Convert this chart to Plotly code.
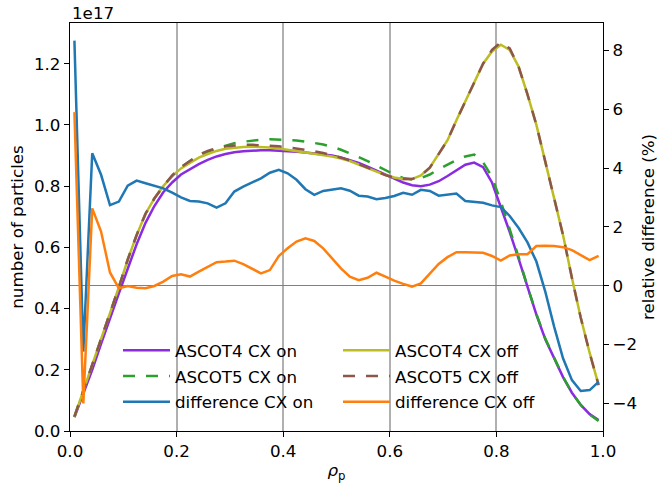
import plotly.graph_objects as go

# radial coordinate (bin centres)
rho = [0.0083, 0.0250, 0.0417, 0.0583, 0.0750, 0.0917, 0.1083, 0.1250, 0.1417, 0.1583,
       0.1750, 0.1917, 0.2083, 0.2250, 0.2417, 0.2583, 0.2750, 0.2917, 0.3083, 0.3250,
       0.3417, 0.3583, 0.3750, 0.3917, 0.4083, 0.4250, 0.4417, 0.4583, 0.4750, 0.4917,
       0.5083, 0.5250, 0.5417, 0.5583, 0.5750, 0.5917, 0.6083, 0.6250, 0.6417, 0.6583,
       0.6750, 0.6917, 0.7083, 0.7250, 0.7417, 0.7583, 0.7750, 0.7917, 0.8083, 0.8250,
       0.8417, 0.8583, 0.8750, 0.8917, 0.9083, 0.9250, 0.9417, 0.9583, 0.9750, 0.9917]

# number of particles, in units of 1e17
ascot4_cx_on = [0.045, 0.12, 0.20, 0.285, 0.37, 0.45, 0.53, 0.61, 0.68, 0.735,
                0.78, 0.812, 0.838, 0.856, 0.872, 0.886, 0.897, 0.905, 0.911, 0.914,
                0.916, 0.917, 0.917, 0.916, 0.914, 0.912, 0.910, 0.907, 0.904, 0.900,
                0.894, 0.886, 0.876, 0.864, 0.851, 0.837, 0.824, 0.812, 0.803, 0.800,
                0.805, 0.816, 0.833, 0.853, 0.870, 0.877, 0.862, 0.812, 0.732, 0.650,
                0.562, 0.470, 0.380, 0.300, 0.240, 0.176, 0.125, 0.085, 0.055, 0.036]
ascot5_cx_on = [0.047, 0.13, 0.215, 0.30, 0.385, 0.47, 0.56, 0.64, 0.71, 0.76,
                0.80, 0.833, 0.862, 0.882, 0.898, 0.912, 0.923, 0.932, 0.940, 0.945,
                0.949, 0.952, 0.953, 0.953, 0.951, 0.949, 0.946, 0.941, 0.936, 0.929,
                0.919, 0.908, 0.895, 0.882, 0.867, 0.852, 0.838, 0.827, 0.822, 0.826,
                0.838, 0.855, 0.870, 0.885, 0.897, 0.903, 0.878, 0.830, 0.750, 0.660,
                0.568, 0.472, 0.382, 0.302, 0.240, 0.177, 0.125, 0.085, 0.054, 0.033]
ascot4_cx_off = [0.047, 0.13, 0.215, 0.30, 0.385, 0.47, 0.56, 0.64, 0.71, 0.76,
                 0.80, 0.833, 0.858, 0.876, 0.893, 0.905, 0.915, 0.922, 0.926, 0.928,
                 0.929, 0.928, 0.926, 0.923, 0.919, 0.915, 0.911, 0.907, 0.903, 0.897,
                 0.890, 0.882, 0.870, 0.858, 0.846, 0.836, 0.828, 0.823, 0.823, 0.835,
                 0.860, 0.905, 0.950, 1.015, 1.075, 1.140, 1.200, 1.240, 1.262, 1.245,
                 1.190, 1.100, 1.000, 0.880, 0.765, 0.640, 0.500, 0.370, 0.255, 0.150]
ascot5_cx_off = [0.047, 0.13, 0.215, 0.30, 0.385, 0.47, 0.56, 0.64, 0.71, 0.76,
                 0.80, 0.835, 0.862, 0.882, 0.903, 0.915, 0.924, 0.930, 0.933, 0.935,
                 0.935, 0.934, 0.932, 0.930, 0.927, 0.923, 0.919, 0.914, 0.908, 0.901,
                 0.893, 0.884, 0.872, 0.859, 0.847, 0.836, 0.828, 0.823, 0.823, 0.835,
                 0.860, 0.905, 0.950, 1.015, 1.075, 1.140, 1.200, 1.245, 1.270, 1.250,
                 1.190, 1.100, 1.000, 0.880, 0.765, 0.640, 0.500, 0.370, 0.255, 0.150]

# relative difference (%)
diff_cx_on = [8.33, -2.24, 4.50, 3.77, 2.74, 2.86, 3.40, 3.57, 3.48, 3.40,
              3.31, 3.16, 3.00, 2.88, 2.86, 2.80, 2.65, 2.80, 3.20, 3.37,
              3.50, 3.65, 3.84, 3.94, 3.82, 3.60, 3.28, 3.09, 3.22, 3.26,
              3.31, 3.23, 3.06, 3.03, 2.94, 2.98, 3.05, 3.16, 3.09, 3.26,
              3.22, 3.06, 3.10, 3.13, 2.88, 2.85, 2.82, 2.73, 2.67, 2.37,
              1.96, 1.47, 0.82, -0.20, -1.39, -2.47, -3.21, -3.58, -3.55, -3.27]
diff_cx_off = [5.90, -4.00, 2.63, 1.84, 0.45, -0.09, -0.01, -0.07, -0.09, -0.01,
               0.14, 0.33, 0.39, 0.31, 0.48, 0.65, 0.80, 0.82, 0.85, 0.73,
               0.57, 0.42, 0.53, 1.01, 1.27, 1.50, 1.61, 1.52, 1.27, 0.91,
               0.59, 0.31, 0.19, 0.27, 0.44, 0.31, 0.17, 0.06, -0.03, 0.08,
               0.42, 0.74, 0.97, 1.14, 1.14, 1.14, 1.12, 1.01, 0.85, 1.03,
               1.07, 1.07, 1.35, 1.36, 1.35, 1.31, 1.21, 1.04, 0.87, 1.01]

left_ticks = [0.0, 0.2, 0.4, 0.6, 0.8, 1.0, 1.2]
right_ticks = [-4, -2, 0, 2, 4, 6, 8]
x_ticks = [0.0, 0.2, 0.4, 0.6, 0.8, 1.0]

FONT = "DejaVu Sans"
FS = 16.7
LW = 2.5
DASH = "12px,11px"

fig = go.Figure()

def add(y, name, color, dash, yaxis, legend, rank):
    fig.add_trace(go.Scatter(
        x=rho, y=y, mode="lines", name=name,
        line=dict(color=color, width=LW, dash=dash),
        yaxis=yaxis, legend=legend, legendgroup=name, legendrank=rank,
        hoverinfo="skip"))

add(ascot4_cx_on, "ASCOT4 CX on", "#8a2be2", "solid", "y", "legend", 1)
add(ascot5_cx_on, "ASCOT5 CX on", "#2ca02c", DASH, "y", "legend", 2)
add(ascot4_cx_off, "ASCOT4 CX off", "#bcbd22", "solid", "y", "legend2", 1)
add(ascot5_cx_off, "ASCOT5 CX off", "#8c564b", DASH, "y", "legend2", 2)
add(diff_cx_on, "difference CX on", "#1f77b4", "solid", "y2", "legend", 3)
add(diff_cx_off, "difference CX off", "#ff7f0e", "solid", "y2", "legend2", 3)

# full-window figure; the page's default body margin is removed in the html
W, H = 662, 485
L, R, T, B = 70, 59, 23, 54
pw = W - L - R
ph = H - T - B

def px_x(p):
    return (p - L) / pw

def px_y(p):
    return (H - B - p) / ph

legend_common = dict(
    bgcolor="rgba(0,0,0,0)", borderwidth=0,
    font=dict(family=FONT, size=FS, color="black"),
    tracegroupgap=1, orientation="v",
    xanchor="left", yanchor="top", itemwidth=47,
)

fig.update_layout(
    width=W, height=H,
    margin=dict(l=L, r=R, t=T, b=B, pad=0),
    paper_bgcolor="white", plot_bgcolor="white",
    font=dict(family=FONT, size=FS, color="black"),
    showlegend=True,
    legend=dict(x=px_x(118), y=px_y(333), **legend_common),
    legend2=dict(x=px_x(338), y=px_y(333), **legend_common),
    xaxis=dict(
        range=[0, 1], tickvals=x_ticks, tickformat=".1f", automargin=False,
        showgrid=True, gridcolor="#b0b0b0", gridwidth=1.5,
        zeroline=False, showline=True, linecolor="black", linewidth=1.3,
        mirror=True, ticks="outside", ticklen=5, tickwidth=1.1, tickcolor="black",
        title=dict(text="<i>ρ</i><sub>p</sub>", standoff=4,
                   font=dict(family=FONT, size=FS)),
    ),
    yaxis=dict(
        range=[0, 1.333], tickvals=left_ticks, tickformat=".1f", automargin=False,
        showgrid=False, zeroline=False, showline=True, linecolor="black",
        linewidth=1.3, ticks="outside", ticklen=5, tickwidth=1.1, tickcolor="black",
        title=dict(text="number of particles", standoff=6,
                   font=dict(family=FONT, size=FS)),
    ),
    yaxis2=dict(
        range=[-4.94, 8.93], tickvals=right_ticks, overlaying="y", side="right",
        automargin=False,
        showgrid=False, zeroline=True, zerolinecolor="#808080", zerolinewidth=1,
        showline=True, linecolor="black", linewidth=1.3,
        ticks="outside", ticklen=5, tickwidth=1.1, tickcolor="black",
        title=dict(text="relative difference (%)", standoff=6,
                   font=dict(family=FONT, size=FS)),
    ),
    annotations=[dict(
        text="1e17", xref="paper", yref="paper", x=0, y=1,
        xanchor="left", yanchor="middle", yshift=10, showarrow=False,
        font=dict(family=FONT, size=FS, color="black"),
    )],
)

fig.write_html("out.html", config=dict(displayModeBar=False),
               post_script="document.body.style.margin='0px';")
